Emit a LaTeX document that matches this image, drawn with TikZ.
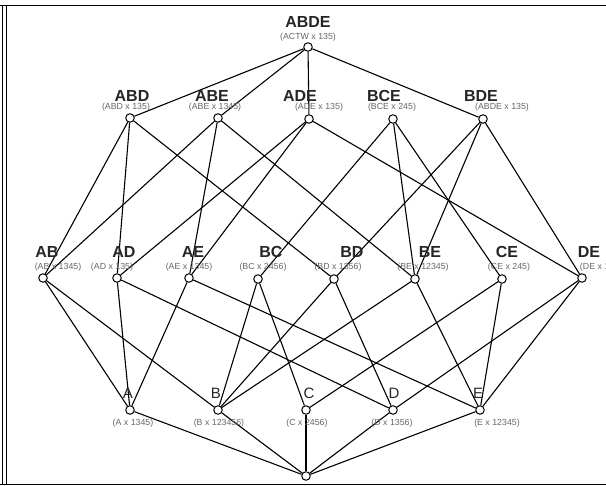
\documentclass[tikz,border=0pt]{standalone}
\usepackage{fontspec}
\setmainfont{Liberation Sans}
\begin{document}
\begin{tikzpicture}[x=1pt,y=-1pt,
  pt/.style={circle,draw,fill=white,line width=1pt,minimum size=8.5pt,inner sep=0pt},
  big/.style={font=\bfseries\fontsize{16}{16}\selectfont,inner sep=0pt,text=black!85},
  bot/.style={font=\fontsize{15}{15}\selectfont,inner sep=0pt,text=black!85},
  sm/.style={font=\fontsize{8.8}{8.8}\selectfont,text=black!60,inner sep=0pt},
  edge/.style={line width=1.1pt},
  frame/.style={line width=1.4pt}]
\useasboundingbox (0,0) rectangle (606,486);
\clip (0,0) rectangle (606,486);
\fill[white] (0,0) rectangle (606,486);
% frame
\draw[frame] (0,5.5) -- (606,5.5);
\draw[frame] (0,484.5) -- (606,484.5);
\draw[line width=1pt] (2,5) -- (2,485);
\draw[line width=1pt] (6,5) -- (6,485);
% nodes
\node[pt] (ABDE) at (308,47) {};
\node[pt] (ABD) at (130,118) {};
\node[pt] (ABE) at (218,118) {};
\node[pt] (ADE) at (309,119) {};
\node[pt] (BCE) at (393,119) {};
\node[pt] (BDE) at (483,119) {};
\node[pt] (AB) at (43,278) {};
\node[pt] (AD) at (117,278) {};
\node[pt] (AE) at (189,278) {};
\node[pt] (BC) at (258,279) {};
\node[pt] (BD) at (334,279) {};
\node[pt] (BE) at (415,279) {};
\node[pt] (CE) at (502,279) {};
\node[pt] (DE) at (582,278) {};
\node[pt] (A) at (130,410) {};
\node[pt] (B) at (218,410) {};
\node[pt] (C) at (306,410) {};
\node[pt] (D) at (393,410) {};
\node[pt] (E) at (480,410) {};
\node[pt] (Z) at (306,476) {};
% edges
\foreach \a/\b in {ABDE/ABD,ABDE/ABE,ABDE/ADE,ABDE/BDE,
  ABD/AB,ABD/AD,ABD/BD,ABE/AB,ABE/AE,ABE/BE,ADE/AD,ADE/AE,ADE/DE,
  BCE/BC,BCE/BE,BCE/CE,BDE/BD,BDE/BE,BDE/DE,
  AB/A,AB/B,AD/A,AD/D,AE/A,AE/E,BC/B,BC/C,BD/B,BD/D,BE/B,BE/E,CE/C,CE/E,DE/D,DE/E,
  A/Z,B/Z,C/Z,D/Z,E/Z}
  \draw[edge] (\a) -- (\b);
% labels
\node[big] (lABDE) at (308,22) {ABDE};
\node[sm] (sABDE) at (308,37) {(ACTW x 135)};
\node[big] (lABD) at (132,96) {ABD};
\node[sm] (sABD) at (126,107) {(ABD x 135)};
\node[big] (lABE) at (212,96) {ABE};
\node[sm] (sABE) at (215,107) {(ABE x 1345)};
\node[big] (lADE) at (300,96) {ADE};
\node[sm] (sADE) at (319,107) {(ADE x 135)};
\node[big] (lBCE) at (384,96) {BCE};
\node[sm] (sBCE) at (392,107) {(BCE x 245)};
\node[big] (lBDE) at (481,96) {BDE};
\node[sm] (sBDE) at (502,107) {(ABDE x 135)};
\node[big] (lAB) at (47,252) {AB};
\node[sm] (sAB) at (58,267) {(AB x 1345)};
\node[big] (lAD) at (124,252) {AD};
\node[sm] (sAD) at (112,267) {(AD x 135)};
\node[big] (lAE) at (193,252) {AE};
\node[sm] (sAE) at (189,267) {(AE x 1345)};
\node[big] (lBC) at (271,252) {BC};
\node[sm] (sBC) at (263,267) {(BC x 2456)};
\node[big] (lBD) at (352,252) {BD};
\node[sm] (sBD) at (338,267) {(BD x 1356)};
\node[big] (lBE) at (430,252) {BE};
\node[sm] (sBE) at (423,267) {(BE x 12345)};
\node[big] (lCE) at (507,252) {CE};
\node[sm] (sCE) at (509,267) {(CE x 245)};
\node[big] (lDE) at (589,252) {DE};
\node[sm] (sDE) at (601,267) {(DE x 135)};
\node[bot] (lA) at (128,393) {A};
\node[sm] (sA) at (133,423) {(A x 1345)};
\node[bot] (lB) at (216,393) {B};
\node[sm] (sB) at (219,423) {(B x 123456)};
\node[bot] (lC) at (309,393) {C};
\node[sm] (sC) at (307,423) {(C x 2456)};
\node[bot] (lD) at (394,393) {D};
\node[sm] (sD) at (392,423) {(D x 1356)};
\node[bot] (lE) at (478,393) {E};
\node[sm] (sE) at (497,423) {(E x 12345)};
\end{tikzpicture}
\end{document}
